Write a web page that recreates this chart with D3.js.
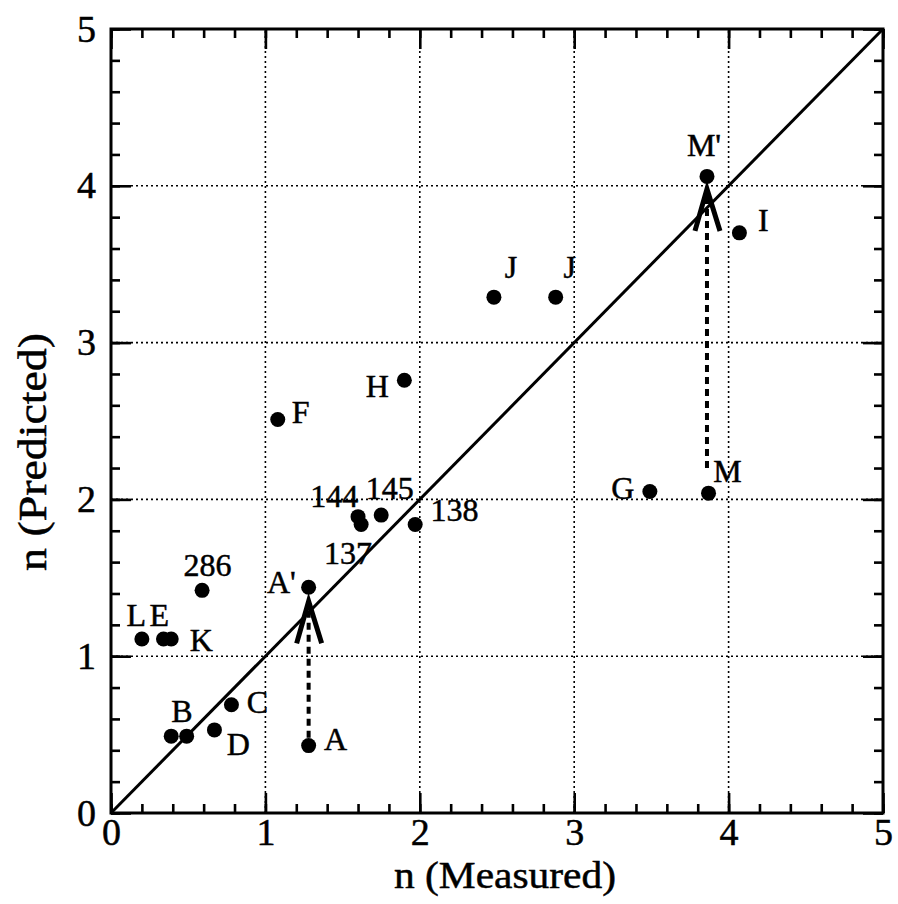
<!doctype html>
<html lang="en">
<head>
<meta charset="utf-8">
<title>n predicted vs measured</title>
<style>
  body { margin: 0; background: #fff; }
  svg text { font-family: "Liberation Serif", "DejaVu Serif", serif; fill: #000; stroke: #000; stroke-width: 0.5px; }
</style>
</head>
<body>
<script src="https://d3js.org/d3.v7.min.js"></script>
<script>
// measured (x) and predicted (y) values of n, one entry per point
var pointX = [0.20, 0.34, 0.39, 0.59, 0.39, 0.49, 0.67, 0.78, 1.28, 1.28,
              1.08, 1.90, 1.60, 1.62, 1.75, 1.97, 2.48, 2.88, 3.86, 4.07, 3.49, 3.87];
var pointY = [1.11, 1.11, 1.11, 1.42, 0.49, 0.49, 0.53, 0.69, 0.43, 1.44,
              2.51, 2.76, 1.89, 1.84, 1.90, 1.84, 3.29, 3.29, 4.06, 3.70, 2.05, 2.04];

// labels and where they sit, in data units (left end of baseline)
var labelText = ["L", "E", "K", "286", "B", "C", "D", "A", "A'", "137", "144", "145",
                 "138", "F", "H", "J", "J", "I", "M'", "G", "M"];
var labelX = [0.10, 0.25, 0.51, 0.47, 0.39, 0.88, 0.75, 1.38, 1.01, 1.38, 1.29, 1.65,
              2.07, 1.17, 1.65, 2.55, 2.93, 4.19, 3.73, 3.24, 3.90];
var labelY = [1.19, 1.19, 1.03, 1.51, 0.58, 0.64, 0.37, 0.40, 1.40, 1.59, 1.95, 2.00,
              1.86, 2.49, 2.65, 3.41, 3.41, 3.71, 4.19, 2.00, 2.11];

// corrections drawn as dashed arrows: from y0 up to the arrow tip at y1
var arrowX = [1.28, 3.86];
var arrowY0 = [0.48, 2.20];
var arrowY1 = [1.35, 3.98];

var tickLabels = ["0", "1", "2", "3", "4", "5"];

var width = 898, height = 904;
var margin = {top: 29, right: 15, bottom: 91, left: 111};

var x = d3.scaleLinear().domain([0, 5]).range([margin.left, width - margin.right]);
var y = d3.scaleLinear().domain([0, 5]).range([height - margin.bottom, margin.top]);

var svg = d3.select("body").append("svg")
            .attr("width", width)
            .attr("height", height);

// dotted grid at the integers
var grid = svg.append("g")
    .attr("fill", "none")
    .attr("stroke", "#000")
    .attr("stroke-width", 1.6)
    .attr("stroke-dasharray", "2,3");
grid.selectAll("line.gx")
    .data(x.ticks(5).slice(1, -1))
    .enter().append("line")
    .attr("x1", function(d) { return x(d); })
    .attr("x2", function(d) { return x(d); })
    .attr("y1", y(0)).attr("y2", y(5));
grid.selectAll("line.gy")
    .data(y.ticks(5).slice(1, -1))
    .enter().append("line")
    .attr("y1", function(d) { return y(d); })
    .attr("y2", function(d) { return y(d); })
    .attr("x1", x(0)).attr("x2", x(5));

// y = x line
svg.append("line")
    .attr("x1", x(0)).attr("y1", y(0))
    .attr("x2", x(5)).attr("y2", y(5))
    .attr("stroke", "#000")
    .attr("stroke-width", 3);

// inward ticks on all four sides, minor every 0.2 and major at the integers
function ticks(axis, transform, size, count) {
    svg.append("g")
        .attr("transform", transform)
        .call(axis.ticks(count).tickSize(-size).tickFormat(""))
        .call(function(g) {
            g.select(".domain").remove();
            g.selectAll(".tick line").attr("stroke-width", 2.6);
        });
}
[[25, 9], [5, 20]].forEach(function(t) {
    ticks(d3.axisBottom(x), "translate(0," + y(0) + ")", t[1], t[0]);
    ticks(d3.axisTop(x), "translate(0," + y(5) + ")", t[1], t[0]);
    ticks(d3.axisLeft(y), "translate(" + x(0) + ",0)", t[1], t[0]);
    ticks(d3.axisRight(y), "translate(" + x(5) + ",0)", t[1], t[0]);
});

// frame
svg.append("rect")
    .attr("x", x(0)).attr("y", y(5))
    .attr("width", x(5) - x(0)).attr("height", y(0) - y(5))
    .attr("fill", "none")
    .attr("stroke", "#000")
    .attr("stroke-width", 3);

// tick labels
function labelStyle(g) {
    g.select(".domain").remove();
    g.selectAll("text").attr("fill", "#000").attr("stroke", "#000")
     .style("font-size", "38px")
     .style("font-family", "Liberation Serif");
}
svg.append("g")
    .attr("transform", "translate(0," + y(0) + ")")
    .call(d3.axisBottom(x).ticks(5).tickSize(0).tickPadding(5)
          .tickFormat(function(d, i) { return tickLabels[i]; }))
    .call(labelStyle);
svg.append("g")
    .attr("transform", "translate(" + x(0) + ",0)")
    .call(d3.axisLeft(y).ticks(5).tickSize(0).tickPadding(15)
          .tickFormat(function(d, i) { return tickLabels[i]; }))
    .call(labelStyle);

// axis titles
svg.append("text")
    .attr("x", 505).attr("y", 888)
    .attr("text-anchor", "middle")
    .attr("textLength", 222)
    .attr("lengthAdjust", "spacingAndGlyphs")
    .style("font-size", "38px")
    .text("n (Measured)");
svg.append("text")
    .attr("transform", "translate(46,452) rotate(-90)")
    .attr("text-anchor", "middle")
    .attr("textLength", 238)
    .attr("lengthAdjust", "spacingAndGlyphs")
    .style("font-size", "40px")
    .text("n (Predicted)");

// dashed correction arrows
var arrows = svg.append("g")
    .attr("fill", "none")
    .attr("stroke", "#000");
arrows.selectAll("line")
    .data(arrowX)
    .enter().append("line")
    .attr("x1", function(d) { return x(d); })
    .attr("x2", function(d) { return x(d); })
    .attr("y1", function(d, i) { return y(arrowY0[i]); })
    .attr("y2", function(d, i) { return y(arrowY1[i]) + 8; })
    .attr("stroke-width", 4)
    .attr("stroke-dasharray", "7,5");
arrows.selectAll("path")
    .data(arrowX)
    .enter().append("path")
    .attr("d", function(d, i) {
        var tx = x(d), ty = y(arrowY1[i]);
        return "M" + (tx - 12) + "," + (ty + 42) + "L" + tx + "," + ty +
               "L" + (tx + 13) + "," + (ty + 42);
    })
    .attr("stroke-width", 5)
    .attr("stroke-linejoin", "miter");

// points
svg.append("g").selectAll("circle")
    .data(pointX)
    .enter().append("circle")
    .attr("cx", function(d) { return x(d); })
    .attr("cy", function(d, i) { return y(pointY[i]); })
    .attr("r", 7.5)
    .attr("fill", "#000");

// point labels
svg.append("g").selectAll("text")
    .data(labelText)
    .enter().append("text")
    .attr("x", function(d, i) { return x(labelX[i]); })
    .attr("y", function(d, i) { return y(labelY[i]); })
    .style("font-size", "32px")
    .text(function(d) { return d; });
</script>
</body>
</html>
